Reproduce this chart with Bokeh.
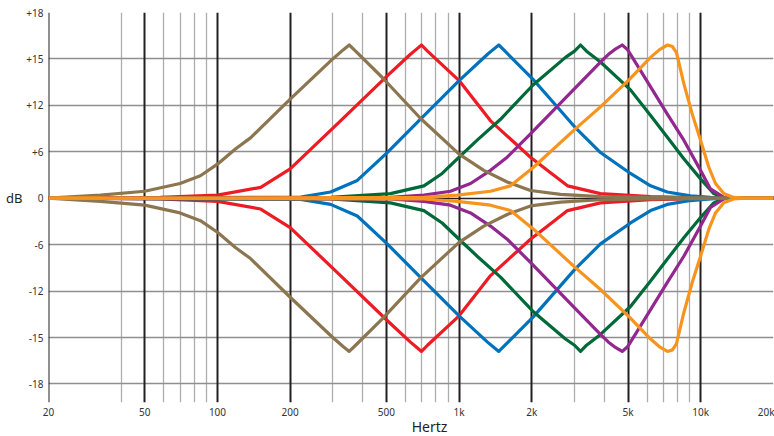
import numpy as np
from bokeh.plotting import figure
from bokeh.models import FixedTicker, Range1d, Grid, LinearAxis, LogAxis
from bokeh.embed import file_html
from bokeh.resources import INLINE

# ---- axes ----
X_TICKS_HZ = [20, 50, 100, 200, 500, 1000, 2000, 5000, 10000, 20000]
X_TICK_LABELS = ["20", "50", "100", "200", "500", "1k", "2k", "5k", "10k", "20k"]
X_MAJOR_GRID_HZ = [20, 50, 100, 200, 500, 1000, 2000, 5000, 10000]
X_MINOR_GRID_HZ = [40, 60, 70, 80, 90, 300, 400, 600, 700, 800, 900,
                   3000, 4000, 6000, 7000, 8000, 9000]
Y_TICK_DB = [-18, -15, -12, -6, 0, 6, 12, 15, 18]
Y_TICK_LABELS = ["-18", "-15", "-12", "-6", "0", "+6", "+12", "+15", "+18"]
X_TITLE = "Hertz"
X_TITLE_HZ = 754
Y_TITLE = "dB"

# ---- curves (Hz, dB) ----
BROWN_HZ = [20, 32.8, 50, 70, 85, 100, 119, 137, 200, 300, 332, 351, 373, 481, 693,
            1000, 1265, 1581, 1974, 2628, 3846, 6200, 10000, 12800, 20000]
BROWN_BOOST = [0, 0.4, 0.9, 1.9, 2.9, 4.4, 6.4, 7.8, 12.4, 15.0, 15.6, 15.9, 15.5,
               13.8, 10.3, 5.7, 3.6, 2.1, 1.0, 0.5, 0.2, 0.1, 0.05, 0, 0]
BROWN_CUT = [0, -0.4, -0.9, -1.9, -2.9, -4.4, -6.4, -7.8, -12.4, -15.0, -15.6, -15.9,
             -15.5, -13.8, -10.3, -5.7, -3.6, -2.1, -1.0, -0.5, -0.2, -0.1, -0.05, 0, 0]

RED_HZ = [20, 58, 100, 151, 200, 323, 504, 629, 663, 699, 740, 1000, 1349, 1974,
          2390, 2810, 3846, 6200, 10000, 12800, 20000]
RED_BOOST = [0, 0.1, 0.4, 1.4, 3.8, 10.0, 13.9, 15.3, 15.6, 15.9, 15.5, 13.6, 10.0,
             5.3, 3.3, 1.6, 0.6, 0.2, 0.05, 0, 0]
RED_CUT = [0, -0.1, -0.4, -1.4, -3.8, -10.0, -13.9, -15.3, -15.6, -15.9, -15.5, -13.6,
           -10.0, -5.3, -3.3, -1.6, -0.6, -0.2, -0.05, 0, 0]

BLUE_HZ = [20, 221, 294, 379, 504, 681, 1000, 1311, 1382, 1460, 1549, 2018, 3012,
           3846, 5120, 6200, 7262, 9070, 10970, 12800, 20000]
BLUE_BOOST = [0, 0.15, 0.8, 2.3, 5.9, 10.0, 13.6, 15.3, 15.6, 15.9, 15.5, 13.7, 9.2,
              5.9, 3.2, 1.6, 0.8, 0.3, 0.1, 0, 0]
BLUE_CUT = [0, -0.15, -0.8, -2.3, -5.9, -10.0, -13.6, -15.3, -15.6, -15.9, -15.5,
            -13.7, -9.2, -5.9, -3.2, -1.6, -0.8, -0.3, -0.1, 0, 0]

GREEN_HZ = [20, 294, 520, 715, 851, 1000, 1188, 1484, 2018, 2756, 3004, 3180, 3368,
            3846, 5120, 6200, 7262, 8510, 9980, 11320, 12540, 20000]
GREEN_BOOST = [0, 0.1, 0.6, 1.6, 3.2, 5.3, 7.5, 10.2, 13.3, 15.1, 15.5, 15.9, 15.5,
               14.8, 13.0, 10.7, 7.9, 5.1, 2.5, 0.6, 0, 0]
GREEN_CUT = [0, -0.1, -0.6, -1.6, -3.2, -5.3, -7.5, -10.2, -13.3, -15.1, -15.5, -15.9,
             -15.5, -14.8, -13.0, -10.7, -7.9, -5.1, -2.5, -0.6, 0, 0]

PURPLE_HZ = [20, 520, 715, 921, 1115, 1349, 1581, 1974, 3012, 3846, 4152, 4396, 4730,
             4975, 5120, 6200, 7262, 8510, 9980, 10970, 12450, 13270, 20000]
PURPLE_BOOST = [0, 0.1, 0.4, 0.9, 1.9, 3.6, 5.3, 8.3, 13.1, 14.8, 15.3, 15.6, 15.9,
                15.6, 15.3, 13.2, 10.9, 7.5, 3.6, 1.2, 0.1, 0, 0]
PURPLE_CUT = [0, -0.1, -0.4, -0.9, -1.9, -3.6, -5.3, -8.3, -13.1, -14.8, -15.3, -15.6,
              -15.9, -15.6, -15.3, -13.2, -10.9, -7.5, -3.6, -1.2, -0.1, 0, 0]

ORANGE_HZ = [20, 715, 982, 1349, 1632, 2032, 3012, 3846, 5080, 6200, 6752, 7284, 7638,
             7936, 8510, 9216, 9980, 10800, 11510, 12450, 13660, 15310, 20000]
ORANGE_BOOST = [0, 0.1, 0.4, 0.9, 1.6, 4.0, 8.9, 11.8, 13.7, 15.1, 15.6, 15.9, 15.8,
                15.4, 13.4, 10.9, 7.5, 4.0, 1.9, 0.6, 0.1, 0, 0]
ORANGE_CUT = [0, -0.1, -0.4, -0.9, -1.6, -4.0, -8.9, -11.8, -13.7, -15.1, -15.6, -15.9,
              -15.8, -15.4, -13.4, -10.9, -7.5, -4.0, -1.9, -0.6, -0.1, 0, 0]

SERIES = [
    ("#ED1C24", RED_HZ, RED_BOOST, RED_CUT),
    ("#0072BC", BLUE_HZ, BLUE_BOOST, BLUE_CUT),
    ("#00693A", GREEN_HZ, GREEN_BOOST, GREEN_CUT),
    ("#92278F", PURPLE_HZ, PURPLE_BOOST, PURPLE_CUT),
    ("#8C7650", BROWN_HZ, BROWN_BOOST, BROWN_CUT),
    ("#F7941D", ORANGE_HZ, ORANGE_BOOST, ORANGE_CUT),
]

# the dB labels sit at equal steps on the chart
Y_POS = list(range(-(len(Y_TICK_DB) // 2), len(Y_TICK_DB) // 2 + 1))


def db_to_pos(v):
    return np.interp(np.asarray(v, dtype=float), Y_TICK_DB, Y_POS)


FONT = "Noto Sans"

p = figure(x_axis_type="log", x_range=Range1d(19.99, 20000), y_range=Range1d(-4.4, 4.0),
           frame_width=725, frame_height=390, width=774, height=436,
           min_border_left=48, min_border_right=1, min_border_top=12, min_border_bottom=34,
           output_backend="svg", toolbar_location=None,
           background_fill_color="white", border_fill_color="white",
           outline_line_color=None)

# grids
p.xgrid.ticker = FixedTicker(ticks=X_MINOR_GRID_HZ)
p.xgrid.grid_line_color = "#adadad"
p.xgrid.grid_line_width = 1.3
p.ygrid.ticker = FixedTicker(ticks=[v for v in Y_POS if v != 0])
p.ygrid.grid_line_color = "#8f8f8f"
p.ygrid.grid_line_width = 1.6
p.add_layout(Grid(dimension=0, ticker=FixedTicker(ticks=X_MAJOR_GRID_HZ),
                  grid_line_color="#231F20", grid_line_width=2))
p.add_layout(Grid(dimension=1, ticker=FixedTicker(ticks=[0]),
                  grid_line_color="#231F20", grid_line_width=1.5))


def style_axis(ax, size, color):
    ax.axis_line_color = None
    ax.major_tick_line_color = None
    ax.minor_tick_line_color = None
    ax.major_tick_out = 0
    ax.major_tick_in = 0
    ax.minor_tick_out = 0
    ax.minor_tick_in = 0
    ax.major_label_text_font = FONT
    ax.major_label_text_font_size = size
    ax.major_label_text_color = color


# axes
p.xaxis.ticker = FixedTicker(ticks=X_TICKS_HZ)
p.xaxis.major_label_overrides = {t: s for t, s in zip(X_TICKS_HZ, X_TICK_LABELS)}
p.yaxis.ticker = FixedTicker(ticks=Y_POS)
p.yaxis.major_label_overrides = {t: s for t, s in zip(Y_POS, Y_TICK_LABELS)}
style_axis(p.xaxis[0], "10px", "#333333")
style_axis(p.yaxis[0], "10px", "#333333")
p.xaxis.major_label_standoff = 2
p.yaxis.major_label_standoff = 5

# axis titles as outer axes so they can sit at chosen positions
y_title_axis = LinearAxis(ticker=FixedTicker(ticks=[0]), major_label_overrides={0: Y_TITLE},
                          major_label_standoff=1)
style_axis(y_title_axis, "13px", "#231F20")
p.add_layout(y_title_axis, "left")

x_title_axis = LogAxis(ticker=FixedTicker(ticks=[X_TITLE_HZ]),
                       major_label_overrides={X_TITLE_HZ: X_TITLE},
                       major_label_standoff=-5)
style_axis(x_title_axis, "14px", "#231F20")
p.add_layout(x_title_axis, "below")

# curves
for color, hz, boost, cut in SERIES:
    p.line(hz, db_to_pos(boost), line_color=color, line_width=3.2, line_join="round")
    p.line(hz, db_to_pos(cut), line_color=color, line_width=3.2, line_join="round")

open("out.html", "w").write(file_html(p, INLINE))
